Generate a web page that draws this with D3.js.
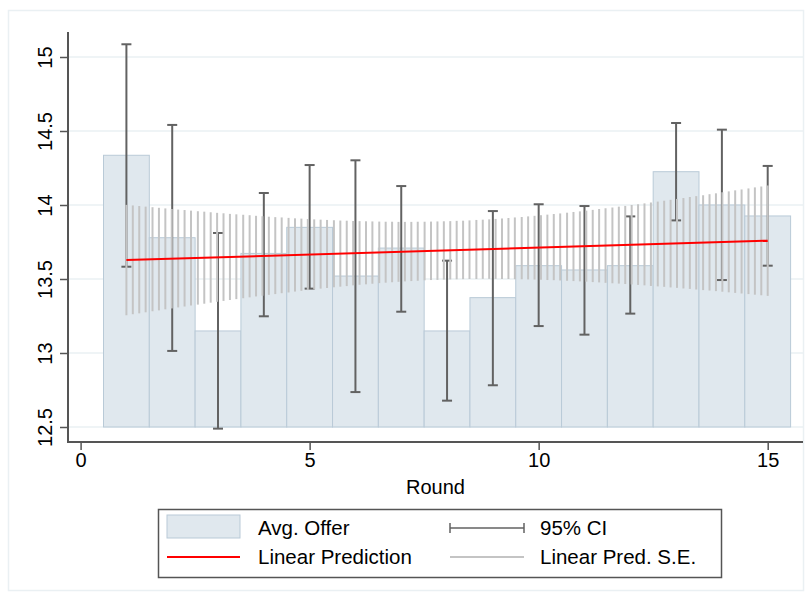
<html>
<head>
  <title>Avg. Offer by Round</title>
  <script src='https://d3js.org/d3.v7.min.js'></script>
  <style>
    body { margin: 0; background: #fff; }
    text { font-family: 'Liberation Sans', Arial, sans-serif; fill: #000; }
  </style>
</head>
<body>
  <script>

// data
var rounds   = [1, 2, 3, 4, 5, 6, 7, 8, 9, 10, 11, 12, 13, 14, 15];
var avgOffer = [14.336, 13.779, 13.149, 13.673, 13.849, 13.520, 13.709, 13.149, 13.374, 13.590, 13.561, 13.590, 14.225, 14.000, 13.926];
var ciHigh   = [15.086, 14.541, 13.811, 14.081, 14.270, 14.302, 14.128, 13.624, 13.959, 14.005, 13.993, 13.923, 14.554, 14.509, 14.264];
var ciLow    = [13.583, 13.014, 12.489, 13.248, 13.435, 12.736, 13.279, 12.678, 12.782, 13.182, 13.124, 13.266, 13.896, 13.493, 13.590];

var fitX = [1, 15];
var fitY = [13.628, 13.759];

var seX = [1.00, 1.14, 1.28, 1.42, 1.57, 1.71, 1.85, 1.99, 2.13, 2.27, 2.41, 2.56, 2.70, 2.84, 2.98, 3.12, 3.26, 3.40, 3.55, 3.69,
           3.83, 3.97, 4.11, 4.25, 4.39, 4.54, 4.68, 4.82, 4.96, 5.10, 5.24, 5.38, 5.53, 5.67, 5.81, 5.95, 6.09, 6.23, 6.37, 6.52,
           6.66, 6.80, 6.94, 7.08, 7.22, 7.36, 7.51, 7.65, 7.79, 7.93, 8.07, 8.21, 8.35, 8.49, 8.64, 8.78, 8.92, 9.06, 9.20, 9.34,
           9.48, 9.63, 9.77, 9.91, 10.05, 10.19, 10.33, 10.47, 10.62, 10.76, 10.90, 11.04, 11.18, 11.32, 11.46, 11.61, 11.75, 11.89, 12.03, 12.17,
           12.31, 12.45, 12.60, 12.74, 12.88, 13.02, 13.16, 13.30, 13.44, 13.59, 13.73, 13.87, 14.01, 14.15, 14.29, 14.43, 14.58, 14.72, 14.86, 15.00];
var seHigh = [14.001, 13.997, 13.993, 13.989, 13.985, 13.981, 13.977, 13.973, 13.969, 13.966, 13.962, 13.958, 13.955, 13.951, 13.947, 13.944, 13.940, 13.937, 13.934, 13.931,
              13.927, 13.924, 13.921, 13.918, 13.916, 13.913, 13.910, 13.908, 13.905, 13.903, 13.901, 13.899, 13.897, 13.895, 13.894, 13.892, 13.891, 13.890, 13.889, 13.888,
              13.887, 13.887, 13.886, 13.886, 13.886, 13.887, 13.887, 13.888, 13.889, 13.890, 13.891, 13.893, 13.894, 13.896, 13.899, 13.901, 13.903, 13.906, 13.909, 13.912,
              13.916, 13.919, 13.923, 13.927, 13.931, 13.935, 13.939, 13.943, 13.948, 13.953, 13.957, 13.962, 13.967, 13.973, 13.978, 13.983, 13.989, 13.994, 14.000, 14.005,
              14.011, 14.017, 14.023, 14.029, 14.035, 14.041, 14.047, 14.054, 14.060, 14.066, 14.073, 14.079, 14.086, 14.092, 14.099, 14.105, 14.112, 14.119, 14.125, 14.132];
var seLow  = [13.255, 13.262, 13.268, 13.275, 13.282, 13.288, 13.295, 13.301, 13.308, 13.314, 13.321, 13.327, 13.333, 13.340, 13.346, 13.352, 13.358, 13.364, 13.370, 13.376,
              13.382, 13.387, 13.393, 13.398, 13.404, 13.409, 13.415, 13.420, 13.425, 13.430, 13.435, 13.439, 13.444, 13.448, 13.452, 13.457, 13.461, 13.464, 13.468, 13.472,
              13.475, 13.478, 13.481, 13.484, 13.486, 13.488, 13.491, 13.493, 13.494, 13.496, 13.497, 13.498, 13.499, 13.500, 13.500, 13.501, 13.501, 13.501, 13.500, 13.500,
              13.499, 13.498, 13.497, 13.496, 13.495, 13.493, 13.492, 13.490, 13.488, 13.486, 13.484, 13.482, 13.479, 13.477, 13.474, 13.471, 13.469, 13.466, 13.463, 13.460,
              13.457, 13.453, 13.450, 13.447, 13.443, 13.440, 13.436, 13.433, 13.429, 13.425, 13.422, 13.418, 13.414, 13.410, 13.406, 13.402, 13.398, 13.394, 13.390, 13.386];

var xTicks = [0, 5, 10, 15];
var yTicks = [12.5, 13, 13.5, 14, 14.5, 15];

var width = 809,
    height = 596;

var svg = d3.select('body')
  .append('svg')
  .attr('width', width)
  .attr('height', height);

// graph region frame
svg.append('rect')
  .attr('x', 8.5).attr('y', 10.5)
  .attr('width', 795).attr('height', 580)
  .attr('fill', 'none')
  .attr('stroke', '#eaf0f3')
  .attr('stroke-width', 1.5);

var x = d3.scaleLinear().domain([0, 15]).range([80.6, 767.7]);
var y = d3.scaleLinear().domain([12.5, 15]).range([427, 57]);

var plotL = 68, plotR = 803, plotT = 32, plotB = 442;

// grid lines
svg.append('g')
  .selectAll('line')
  .data(yTicks)
  .enter()
  .append('line')
  .attr('x1', plotL).attr('x2', plotR)
  .attr('y1', function(d){ return y(d); })
  .attr('y2', function(d){ return y(d); })
  .attr('stroke', '#eaf0f3')
  .attr('stroke-width', 1.5);

// bars
var bw = x(1) - x(0);
svg.append('g')
  .selectAll('rect')
  .data(rounds)
  .enter()
  .append('rect')
  .attr('x', function(d){ return x(d - 0.5); })
  .attr('width', bw)
  .attr('y', function(d, i){ return y(avgOffer[i]); })
  .attr('height', function(d, i){ return y(12.5) - y(avgOffer[i]); })
  .attr('fill', '#e0e8ee')
  .attr('stroke', '#b9cad7')
  .attr('stroke-width', 1);

// 95% CI caps
var ci = svg.append('g')
  .attr('stroke', '#626262')
  .attr('stroke-width', 2);
rounds.forEach(function(d, i){
  ci.append('line')
    .attr('x1', x(d)).attr('x2', x(d))
    .attr('y1', y(ciHigh[i])).attr('y2', y(ciLow[i]));
  [ciHigh[i], ciLow[i]].forEach(function(v){
    ci.append('line')
      .attr('x1', x(d) - 5).attr('x2', x(d) + 5)
      .attr('y1', y(v)).attr('y2', y(v));
  });
});

// linear prediction S.E. spikes
svg.append('g')
  .selectAll('line')
  .data(seX)
  .enter()
  .append('line')
  .attr('x1', function(d){ return x(d); })
  .attr('x2', function(d){ return x(d); })
  .attr('y1', function(d, i){ return y(seHigh[i]); })
  .attr('y2', function(d, i){ return y(seLow[i]); })
  .attr('stroke', '#c4c4c4')
  .attr('stroke-width', 2);

// linear prediction
svg.append('line')
  .attr('x1', x(fitX[0])).attr('y1', y(fitY[0]))
  .attr('x2', x(fitX[1])).attr('y2', y(fitY[1]))
  .attr('stroke', '#ff0000')
  .attr('stroke-width', 2);

// axes
var yAxis = d3.axisLeft(y).tickValues(yTicks).tickSize(8).tickPadding(0)
  .tickFormat(function(d){ return d3.format('')(d); });
var gy = svg.append('g')
  .attr('transform', 'translate(' + plotL + ',0)')
  .call(yAxis);
gy.select('.domain').remove();
gy.selectAll('.tick line').attr('stroke', '#555').attr('stroke-width', 1.5);
gy.selectAll('.tick text')
  .attr('transform', 'rotate(-90)')
  .attr('x', 0)
  .attr('y', -16)
  .attr('dy', 0)
  .attr('text-anchor', 'middle')
  .style('font-size', '20px');

svg.append('line')
  .attr('x1', plotL).attr('x2', plotL)
  .attr('y1', plotT).attr('y2', plotB + 1)
  .attr('stroke', '#555').attr('stroke-width', 2);

var xAxis = d3.axisBottom(x).tickValues(xTicks).tickSize(8).tickPadding(3);
var gx = svg.append('g')
  .attr('transform', 'translate(0,' + plotB + ')')
  .call(xAxis);
gx.select('.domain').remove();
gx.selectAll('.tick line').attr('stroke', '#555').attr('stroke-width', 1.5);
gx.selectAll('.tick text').style('font-size', '20px').attr('fill', '#000');

svg.append('line')
  .attr('x1', plotL).attr('x2', plotR)
  .attr('y1', plotB).attr('y2', plotB)
  .attr('stroke', '#555').attr('stroke-width', 2);

svg.append('text')
  .attr('x', (plotL + plotR) / 2)
  .attr('y', 494)
  .attr('text-anchor', 'middle')
  .style('font-size', '20px')
  .text('Round');

// legend
var lg = svg.append('g');
lg.append('rect')
  .attr('x', 158.5).attr('y', 509.5)
  .attr('width', 563).attr('height', 68)
  .attr('fill', '#fff')
  .attr('stroke', '#555')
  .attr('stroke-width', 1.5);

lg.append('rect')
  .attr('x', 167).attr('y', 515)
  .attr('width', 73).attr('height', 23)
  .attr('fill', '#e0e8ee')
  .attr('stroke', '#b9cad7');
lg.append('line')
  .attr('x1', 167).attr('x2', 240).attr('y1', 557).attr('y2', 557)
  .attr('stroke', '#ff0000').attr('stroke-width', 2);

lg.append('line')
  .attr('x1', 450).attr('x2', 524).attr('y1', 528).attr('y2', 528)
  .attr('stroke', '#626262').attr('stroke-width', 1.5);
[450, 524].forEach(function(px){
  lg.append('line')
    .attr('x1', px).attr('x2', px).attr('y1', 523).attr('y2', 533)
    .attr('stroke', '#626262').attr('stroke-width', 1.5);
});
lg.append('line')
  .attr('x1', 450).attr('x2', 524).attr('y1', 557).attr('y2', 557)
  .attr('stroke', '#c4c4c4').attr('stroke-width', 2);

var labels = [['Avg. Offer', 258, 535], ['95% CI', 540, 535],
              ['Linear Prediction', 258, 564], ['Linear Pred. S.E.', 540, 564]];
lg.selectAll('text.lab')
  .data(labels)
  .enter()
  .append('text')
  .attr('class', 'lab')
  .attr('x', function(d){ return d[1]; })
  .attr('y', function(d){ return d[2]; })
  .style('font-size', '20.5px')
  .text(function(d){ return d[0]; });

  </script>
</body>
</html>
